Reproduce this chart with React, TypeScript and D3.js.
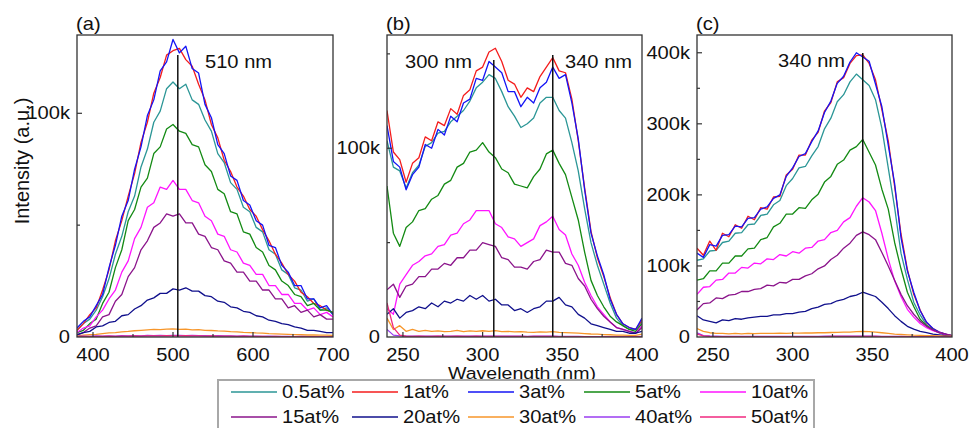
import React from "react";
import * as d3 from "d3";

// Doping levels shown in every panel, with their line colours
const seriesLabels = ["0.5at%", "1at%", "3at%", "5at%", "10at%", "15at%", "20at%", "30at%", "40at%", "50at%"];
const seriesColors = ["#2b9696", "#f41c1c", "#1414f5", "#138a13", "#ff14ff", "#8b148b", "#10108c", "#f7962a", "#9a3cf0", "#f0287f"];

// Sampling grids (nm)
const wavelengthA = d3.range(380, 701, 8);
const wavelengthBC = d3.range(240, 401, 4);

// Panel (a): emission spectra, intensity in thousands of counts
const a05 = [3, 6, 8, 12, 18, 26, 37, 45, 56, 63, 76, 84, 96, 101, 111, 114, 111, 113, 106, 104, 97, 92, 82, 78, 69, 66, 58, 56, 49, 47, 39, 37, 30, 28, 22, 21, 16, 17, 12, 13, 10];
const a1 = [3, 6, 10, 13, 21, 30, 43, 52, 63, 73, 87, 96, 109, 116, 126, 128, 129, 124, 121, 113, 106, 95, 89, 79, 74, 67, 63, 57, 54, 48, 43, 37, 33, 28, 25, 20, 18, 15, 14, 12, 11];
const a3 = [4, 7, 9, 14, 19, 31, 41, 54, 61, 75, 85, 99, 106, 119, 123, 133, 127, 130, 120, 118, 104, 98, 86, 82, 72, 70, 61, 59, 52, 50, 41, 40, 32, 29, 23, 23, 17, 17, 13, 14, 10];
const a5 = [2, 3, 6, 8, 15, 20, 31, 39, 52, 57, 67, 71, 82, 85, 93, 95, 92, 91, 86, 85, 77, 74, 66, 64, 56, 55, 47, 46, 40, 38, 32, 30, 25, 23, 19, 18, 14, 15, 12, 12, 11];
const a10 = [2, 4, 5, 9, 12, 17, 21, 29, 34, 44, 49, 58, 60, 67, 66, 70, 66, 66, 61, 60, 54, 52, 46, 45, 39, 38, 33, 32, 28, 28, 23, 23, 19, 19, 15, 15, 12, 13, 10, 11, 9];
const a15 = [1, 2, 4, 5, 9, 10, 16, 19, 27, 31, 39, 43, 49, 51, 55, 54, 55, 51, 51, 46, 45, 40, 39, 34, 33, 29, 29, 25, 25, 21, 21, 17, 17, 13, 14, 11, 12, 9, 10, 8, 8];
const a20 = [1, 2, 2.5, 4.5, 5, 6.5, 7, 9.5, 10, 12.5, 14, 16.5, 17.5, 19.5, 19.5, 21.5, 21, 22, 20.5, 20.5, 18.5, 18, 16, 15.5, 13.5, 13, 11.5, 11, 9.5, 9, 7.5, 7, 6, 5.5, 4.5, 4, 3, 3, 2.5, 2, 2];
const a30 = [0.5, 0.8, 1, 1.2, 1.5, 1.8, 2, 2.3, 2.5, 2.8, 3, 3.2, 3.4, 3.3, 3.5, 3.6, 3.4, 3.5, 3.2, 3.3, 3, 2.9, 2.7, 2.6, 2.4, 2.3, 2.1, 2, 1.8, 1.7, 1.5, 1.4, 1.3, 1.2, 1.1, 1, 0.9, 0.9, 0.8, 0.8, 0.7];
const a40 = [0.3, 0.4, 0.3, 0.5, 0.4, 0.5, 0.4, 0.6, 0.5, 0.6, 0.5, 0.7, 0.6, 0.7, 0.6, 0.7, 0.7, 0.6, 0.7, 0.6, 0.6, 0.5, 0.6, 0.5, 0.5, 0.4, 0.5, 0.4, 0.4, 0.3, 0.4, 0.3, 0.3, 0.3, 0.2, 0.3, 0.2, 0.2, 0.2, 0.2, 0.2];
const a50 = [0.2, 0.3, 0.2, 0.3, 0.3, 0.4, 0.3, 0.4, 0.4, 0.5, 0.4, 0.5, 0.5, 0.5, 0.6, 0.5, 0.5, 0.6, 0.5, 0.5, 0.4, 0.5, 0.4, 0.4, 0.4, 0.3, 0.4, 0.3, 0.3, 0.3, 0.2, 0.3, 0.2, 0.2, 0.2, 0.2, 0.1, 0.2, 0.1, 0.1, 0.1];

// Panel (b): excitation spectra monitored at 510 nm
const b05 = [104, 90, 88, 79, 87, 91, 101, 103, 108, 109, 114, 117, 120, 125, 132, 135, 139, 137, 130, 122, 117, 111, 113, 116, 124, 127, 127, 120, 116, 103, 88, 68, 50, 38, 28, 18, 10, 6, 4, 4, 8];
const b1 = [120, 98, 94, 82, 92, 95, 106, 104, 114, 112, 121, 118, 128, 131, 141, 143, 151, 153, 146, 136, 134, 127, 132, 130, 138, 143, 148, 141, 140, 126, 104, 79, 56, 42, 32, 21, 12, 7, 5, 4, 9];
const b3 = [112, 93, 90, 78, 86, 90, 102, 100, 110, 107, 117, 114, 124, 126, 137, 136, 146, 143, 140, 130, 130, 122, 127, 124, 132, 135, 143, 137, 139, 124, 105, 78, 55, 43, 33, 20, 12, 7, 5, 4, 10];
const b5 = [80, 55, 48, 58, 61, 67, 68, 73, 75, 81, 83, 90, 92, 98, 99, 103, 98, 95, 89, 87, 81, 80, 79, 85, 89, 97, 99, 92, 86, 74, 62, 45, 30, 22, 16, 11, 8, 6, 4, 3, 7];
const b10 = [15, 12, 28, 33, 38, 40, 43, 44, 48, 49, 54, 55, 60, 62, 67, 67, 67, 60, 58, 53, 52, 48, 50, 52, 59, 61, 64, 57, 54, 44, 38, 29, 22, 16, 12, 8, 5, 4, 3, 2, 6];
const b15 = [25, 28, 21, 27, 28, 32, 32, 36, 36, 39, 38, 42, 42, 46, 46, 50, 49, 48, 42, 41, 37, 37, 36, 40, 41, 46, 45, 45, 39, 38, 31, 27, 20, 15, 11, 8, 5, 4, 3, 2, 5];
const b20 = [12, 15, 10, 13, 14, 16, 15, 18, 16, 19, 18, 20, 19, 22, 20, 22, 19, 20, 17, 17, 14, 15, 13, 15, 16, 19, 19, 21, 17, 16, 12, 10, 7, 6, 5, 4, 3, 3, 2, 2, 3];
const b30 = [10, 4, 6, 3, 4, 3, 3.5, 3, 3.2, 2.8, 3, 3.5, 2.8, 3.2, 3, 3.3, 3, 3.4, 2.9, 3, 2.7, 2.8, 2.6, 2.5, 2.7, 2.6, 2.8, 2.4, 2.3, 2.2, 2, 1.8, 1.6, 1.5, 1.3, 1.2, 1, 1, 0.9, 0.9, 1.5];
const b40 = [4, 1, 0.6, 0.5, 0.5, 0.4, 0.5, 0.4, 0.5, 0.4, 0.5, 0.5, 0.4, 0.5, 0.5, 0.5, 0.4, 0.5, 0.4, 0.4, 0.4, 0.4, 0.3, 0.4, 0.4, 0.4, 0.4, 0.3, 0.3, 0.3, 0.3, 0.2, 0.2, 0.2, 0.2, 0.2, 0.2, 0.2, 0.2, 0.2, 0.3];
const b50 = [18, 5, 1, 0.4, 0.3, 0.4, 0.3, 0.3, 0.4, 0.3, 0.3, 0.4, 0.3, 0.3, 0.4, 0.3, 0.3, 0.3, 0.3, 0.3, 0.3, 0.3, 0.2, 0.3, 0.3, 0.3, 0.3, 0.2, 0.2, 0.2, 0.2, 0.2, 0.1, 0.1, 0.1, 0.1, 0.1, 0.1, 0.1, 0.1, 0.2];

// Panel (c): excitation spectra of the second emission band
const c05 = [108, 110, 121, 122, 133, 135, 146, 147, 158, 159, 171, 173, 186, 192, 213, 223, 238, 240, 255, 268, 293, 308, 331, 341, 359, 370, 362, 354, 334, 294, 238, 182, 118, 81, 49, 31, 17, 10, 6, 3, 2];
const c1 = [125, 115, 135, 122, 146, 141, 158, 153, 170, 165, 182, 180, 197, 198, 228, 236, 256, 256, 277, 288, 318, 330, 359, 365, 385, 396, 397, 385, 362, 320, 276, 212, 145, 95, 60, 38, 20, 12, 7, 4, 2];
const c3 = [118, 112, 130, 128, 143, 144, 156, 155, 167, 168, 180, 183, 195, 200, 226, 238, 254, 258, 275, 290, 316, 332, 357, 367, 387, 400, 394, 388, 356, 324, 270, 216, 140, 93, 63, 37, 21, 12, 7, 4, 2];
const c5 = [80, 82, 93, 93, 104, 104, 114, 114, 124, 125, 137, 140, 155, 160, 173, 173, 182, 181, 193, 201, 218, 226, 243, 249, 263, 268, 278, 260, 242, 208, 180, 133, 96, 63, 43, 25, 16, 10, 6, 3, 2];
const c10 = [60, 70, 71, 80, 81, 90, 90, 98, 97, 104, 103, 110, 109, 116, 114, 120, 118, 125, 126, 135, 137, 147, 150, 162, 168, 184, 196, 190, 178, 146, 110, 79, 57, 39, 28, 19, 13, 9, 6, 3, 2];
const c15 = [38, 47, 48, 55, 54, 59, 60, 64, 64, 67, 68, 73, 72, 77, 76, 81, 81, 86, 89, 96, 100, 109, 115, 125, 132, 143, 148, 144, 137, 119, 100, 80, 60, 44, 32, 22, 15, 10, 6, 4, 2];
const c20 = [30, 24, 22, 20, 24, 23, 26, 25, 27, 28, 29, 29, 31, 31, 33, 33, 35, 36, 40, 42, 46, 47, 51, 53, 57, 59, 63, 60, 57, 49, 40, 30, 22, 15, 11, 8, 6, 4, 3, 2, 1];
const c30 = [12, 8, 6, 5, 5, 4.5, 5, 4.5, 5, 4.8, 5, 5.2, 5, 5.3, 5.2, 5.5, 5.4, 5.8, 5.6, 6, 6, 6.3, 6.5, 6.8, 7, 7.5, 8, 7.5, 7, 6, 5, 4, 3.5, 3, 2.5, 2.2, 2, 1.8, 1.5, 1.3, 1.2];
const c40 = [6, 2, 1.5, 1.2, 1, 1, 1, 1, 1, 1, 1, 1, 1, 1, 1, 1, 1, 1, 1, 1, 1.1, 1.1, 1.1, 1.2, 1.2, 1.3, 1.3, 1.2, 1.1, 1, 0.9, 0.8, 0.7, 0.6, 0.5, 0.5, 0.4, 0.4, 0.3, 0.3, 0.3];
const c50 = [4, 1.5, 0.8, 0.6, 0.5, 0.5, 0.5, 0.5, 0.5, 0.5, 0.5, 0.5, 0.5, 0.5, 0.5, 0.6, 0.6, 0.6, 0.6, 0.6, 0.6, 0.7, 0.7, 0.7, 0.8, 0.8, 0.8, 0.8, 0.7, 0.6, 0.5, 0.4, 0.4, 0.3, 0.3, 0.2, 0.2, 0.2, 0.2, 0.1, 0.1];

// Axis ticks (nm and k-counts)
const xTicksA = [400, 500, 600, 700];
const xMinorA = [450, 550, 650];
const xTicksBC = [250, 300, 350, 400];
const xMinorBC = [275, 325, 375];
const yTicksA = [0, 100];
const yMinorA = [50];
const yTicksB = [0, 100];
const yMinorB = [50, 150];
const yTicksC = [0, 100, 200, 300, 400];
const yMinorC = [50, 150, 250, 350];

// Peak markers (nm) and their captions
const peakA = [506];
const peakLabelsA = ["510 nm"];
const peakB = [307, 344];
const peakLabelsB = ["300 nm", "340 nm"];
const peakC = [344];
const peakLabelsC = ["340 nm"];

const TOP = 35;
const BOTTOM = 337;
const FONT = "'Liberation Sans', Arial, Helvetica, sans-serif";
const STRETCH = 1.15;
const FS = 17.5;

type Panel = {
  tag: string;
  x0: number;
  x1: number;
  xDomain: [number, number];
  yMax: number;
  xMajor: number[];
  xMinor: number[];
  yMajor: number[];
  yMinor: number[];
  wavelengths: number[];
  series: number[][];
  peaks: number[];
  peakLabels: string[];
  peakTop: number[];
  captionPos: [number, number][];
};

const panels: Panel[] = [
  {
    tag: "(a)", x0: 77, x1: 333, xDomain: [380, 700], yMax: 135,
    xMajor: xTicksA, xMinor: xMinorA, yMajor: yTicksA, yMinor: yMinorA,
    wavelengths: wavelengthA,
    series: [a05, a1, a3, a5, a10, a15, a20, a30, a40, a50],
    peaks: peakA, peakLabels: peakLabelsA, peakTop: [55],
    captionPos: [[205, 68]],
  },
  {
    tag: "(b)", x0: 387, x1: 642, xDomain: [240, 400], yMax: 160,
    xMajor: xTicksBC, xMinor: xMinorBC, yMajor: yTicksB, yMinor: yMinorB,
    wavelengths: wavelengthBC,
    series: [b05, b1, b3, b5, b10, b15, b20, b30, b40, b50],
    peaks: peakB, peakLabels: peakLabelsB, peakTop: [60, 55],
    captionPos: [[405, 68], [565, 68]],
  },
  {
    tag: "(c)", x0: 697, x1: 952, xDomain: [240, 400], yMax: 425,
    xMajor: xTicksBC, xMinor: xMinorBC, yMajor: yTicksC, yMinor: yMinorC,
    wavelengths: wavelengthBC,
    series: [c05, c1, c3, c5, c10, c15, c20, c30, c40, c50],
    peaks: peakC, peakLabels: peakLabelsC, peakTop: [53],
    captionPos: [[778, 67]],
  },
];

const fmtK = (v: number) => (v === 0 ? "0" : `${v}k`);

function Label(props: { x: number; y: number; text: string; anchor?: string; baseline?: string; size?: number }) {
  const { x, y, text, anchor = "start", baseline = "auto", size = FS } = props;
  return (
    <text
      transform={`translate(${x},${y}) scale(${STRETCH},1)`}
      textAnchor={anchor as any}
      dominantBaseline={baseline as any}
      fontSize={size}
      fontFamily={FONT}
      fill="#111"
    >
      {text}
    </text>
  );
}

function PanelView({ p, idx }: { p: Panel; idx: number }) {
  const xs = d3.scaleLinear().domain(p.xDomain).range([p.x0, p.x1]);
  const ys = d3.scaleLinear().domain([0, p.yMax]).range([BOTTOM, TOP]);
  const line = d3
    .line<number>()
    .x((_, i) => xs(p.wavelengths[i]))
    .y((v) => ys(v));
  const clipId = `clip-${idx}`;
  return (
    <g>
      <defs>
        <clipPath id={clipId}>
          <rect x={p.x0} y={TOP} width={p.x1 - p.x0} height={BOTTOM - TOP} />
        </clipPath>
      </defs>
      <g clipPath={`url(#${clipId})`}>
        {p.series.map((s, i) => (
          <path key={i} d={line(s) || ""} fill="none" stroke={seriesColors[i]} strokeWidth={1.3} strokeLinejoin="round" />
        ))}
        {p.peaks.map((w, i) => (
          <line key={`pk${i}`} x1={xs(w)} x2={xs(w)} y1={BOTTOM} y2={p.peakTop[i]} stroke="#111" strokeWidth={1.5} />
        ))}
      </g>
      <rect x={p.x0} y={TOP} width={p.x1 - p.x0} height={BOTTOM - TOP} fill="none" stroke="#333" strokeWidth={1.3} />
      {/* inward ticks on the bottom axis */}
      {p.xMajor.filter((t) => t > p.xDomain[0] && t < p.xDomain[1]).map((t) => (
        <line key={`xM${t}`} x1={xs(t)} x2={xs(t)} y1={BOTTOM} y2={BOTTOM - 5} stroke="#333" strokeWidth={1.2} />
      ))}
      {p.xMinor.map((t) => (
        <line key={`xm${t}`} x1={xs(t)} x2={xs(t)} y1={BOTTOM} y2={BOTTOM - 3} stroke="#333" strokeWidth={1.2} />
      ))}
      {/* inward ticks on the left axis */}
      {p.yMajor.filter((t) => t > 0).map((t) => (
        <line key={`yM${t}`} x1={p.x0} x2={p.x0 + 5} y1={ys(t)} y2={ys(t)} stroke="#333" strokeWidth={1.2} />
      ))}
      {p.yMinor.map((t) => (
        <line key={`ym${t}`} x1={p.x0} x2={p.x0 + 3} y1={ys(t)} y2={ys(t)} stroke="#333" strokeWidth={1.2} />
      ))}
      {p.xMajor.map((t) => (
        <Label key={`xl${t}`} x={xs(t)} y={361} text={String(t)} anchor="middle" />
      ))}
      {p.yMajor.map((t) => (
        <Label key={`yl${t}`} x={p.x0 - 7} y={ys(t)} text={fmtK(t)} anchor="end" baseline="central" />
      ))}
      {p.peakLabels.map((txt, i) => (
        <Label key={`cap${i}`} x={p.captionPos[i][0]} y={p.captionPos[i][1]} text={txt} />
      ))}
      <Label x={p.x0 - 1} y={30} text={p.tag} />
    </g>
  );
}

const legendCols = [231, 352, 468, 584, 700];
const legendRows = [392, 417];

export default function App() {
  return (
    <svg
      width={970}
      height={428}
      style={{ position: "absolute", left: 0, top: 0, display: "block", background: "#fff" }}
    >
      <rect x={0} y={0} width={970} height={428} fill="#fff" />
      {panels.map((p, i) => (
        <PanelView key={p.tag} p={p} idx={i} />
      ))}
      <text
        transform="translate(22,161) rotate(-90)"
        textAnchor="middle"
        dominantBaseline="central"
        fontSize={20}
        fontFamily={FONT}
        fill="#111"
      >
        Intensity (a.u.)
      </text>
      <Label x={522} y={379} text="Wavelength (nm)" anchor="middle" size={17} />
      {/* legend */}
      <rect x={218} y={380} width={596} height={70} fill="#fff" stroke="#a8a8a8" strokeWidth={2} />
      {seriesLabels.map((name, i) => {
        const cx = legendCols[i % 5];
        const cy = legendRows[Math.floor(i / 5)];
        return (
          <g key={name}>
            <line x1={cx} x2={cx + 46} y1={cy} y2={cy} stroke={seriesColors[i]} strokeWidth={1.5} />
            <Label x={cx + 51} y={cy} text={name} baseline="central" />
          </g>
        );
      })}
    </svg>
  );
}
